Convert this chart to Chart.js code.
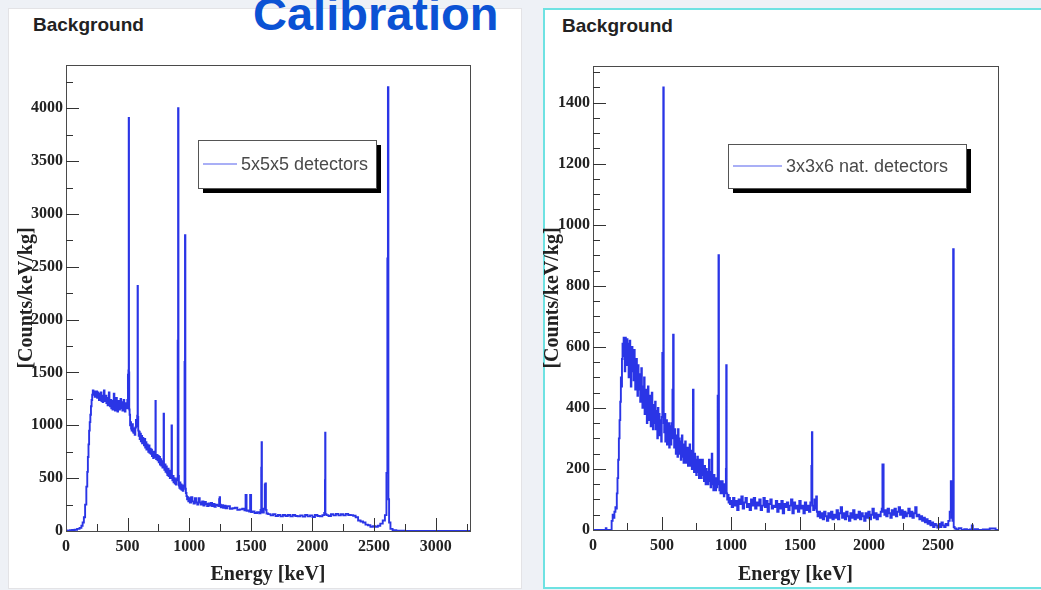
<!DOCTYPE html>
<html>
<head>
<meta charset="utf-8">
<script src="https://cdn.jsdelivr.net/npm/chart.js@4.4.1/dist/chart.umd.min.js"></script>
<style>
  body { margin: 0; width: 1041px; height: 590px; background: #eef1f6; position: relative; overflow: hidden; }
  .panel { position: absolute; background: #fff; }
  #panelL { left: 8px; top: 8px; width: 512px; height: 579px; border: 1px solid #e3e3e6; }
  #panelR { left: 543px; top: 8px; width: 520px; height: 577px; border: 2px solid #6ee2e2; }
  .heading { position: absolute; font: bold 19px "Liberation Sans", Arial, sans-serif; line-height: 19px; color: #222; }
  #title { position: absolute; left: 253px; top: -10px; font: bold 47px "Liberation Sans", Arial, sans-serif; line-height: 47px; color: #0b52d4; }
  canvas { position: absolute; top: 0; }
</style>
</head>
<body>
<div class="panel" id="panelL"></div>
<div class="panel" id="panelR"></div>
<div id="title">Calibration</div>
<div class="heading" style="left:33px; top:15px">Background</div>
<div class="heading" style="left:562px; top:16px">Background</div>
<canvas id="chartL" width="530" height="590" style="left:0"></canvas>
<canvas id="chartR" width="511" height="590" style="left:530px"></canvas>
<script>
// series labels
const seriesLabels = ['5x5x5 detectors', '3x3x6 nat. detectors'];

// axis ticks
const xTicksL = [0, 500, 1000, 1500, 2000, 2500, 3000];
const yTicksL = [0, 500, 1000, 1500, 2000, 2500, 3000, 3500, 4000];
const xTicksR = [0, 500, 1000, 1500, 2000, 2500];
const yTicksR = [0, 200, 400, 600, 800, 1000, 1200, 1400];

// [energy keV, counts/keV/kg]
const spectrum5 = [
  [0,5],[20,3],[40,8],[60,10],[80,12],[100,20],[120,30],[130,50],[140,80],[150,130],[160,250],[170,420],
  [175,560],[180,700],[185,820],[190,950],[195,1030],[200,1100],[205,1180],[210,1240],[215,1290],[220,1330],
  [225,1300],[230,1320],[235,1270],[240,1310],[245,1280],[250,1320],[255,1260],[260,1310],[265,1270],[270,1240],
  [275,1300],[280,1250],[285,1310],[290,1230],[295,1280],[300,1220],[305,1270],[310,1330],[315,1270],[320,1230],
  [325,1280],[330,1210],[335,1260],[340,1190],[345,1250],[350,1310],[355,1220],[360,1180],[365,1240],[370,1160],
  [375,1220],[380,1150],[385,1230],[390,1300],[395,1190],[400,1140],[405,1210],[410,1260],[415,1170],[420,1130],
  [425,1200],[430,1230],[435,1150],[440,1210],[445,1250],[450,1160],[455,1220],[460,1140],[465,1200],[470,1240],
  [475,1160],[480,1130],[485,1210],[490,1170],[495,1160],[500,1240],[505,1480],[508,1520],[510,3910],[512,1500],
  [514,1150],[518,1100],[522,1000],[526,1030],[530,970],[535,950],[540,1010],[545,940],[550,930],[555,970],
  [560,910],[565,980],[570,1050],[575,990],[580,1090],[582,2320],[584,1080],[588,950],[592,900],[596,940],
  [600,870],[605,920],[610,850],[615,900],[620,830],[625,880],[630,850],[635,810],[640,870],[645,790],
  [650,840],[655,770],[660,820],[665,790],[670,750],[675,810],[680,740],[685,780],[690,730],[695,770],
  [700,710],[705,750],[710,690],[715,740],[720,700],[725,750],[727,1230],[729,720],[733,680],[740,720],
  [745,670],[750,710],[755,650],[760,700],[765,630],[770,680],[775,620],[780,660],[785,600],[790,650],
  [794,1110],[796,620],[800,580],[805,630],[810,560],[815,610],[820,550],[825,530],[830,590],[835,520],
  [840,570],[845,500],[850,550],[855,570],[858,1000],[861,520],[865,480],[870,520],[875,460],[880,500],
  [885,450],[890,490],[895,440],[900,480],[905,500],[908,1800],[911,4000],[914,520],[918,430],[922,410],
  [926,460],[930,400],[935,440],[940,390],[945,430],[950,380],[955,420],[960,430],[964,1600],[967,2800],
  [970,400],[975,360],[980,330],[985,300],[990,320],[995,280],[1000,310],[1010,270],[1020,320],[1030,280],
  [1040,260],[1050,310],[1060,270],[1070,250],[1080,310],[1090,270],[1100,250],[1110,280],[1120,240],[1130,275],
  [1140,255],[1150,235],[1160,260],[1170,240],[1180,265],[1190,235],[1200,255],[1210,230],[1220,250],[1230,245],
  [1240,235],[1245,300],[1248,320],[1252,250],[1260,225],[1270,245],[1280,220],[1290,240],[1300,215],[1320,235],
  [1340,210],[1360,215],[1380,220],[1400,200],[1420,205],[1440,210],[1455,195],[1459,340],[1463,340],[1467,190],
  [1480,195],[1492,185],[1496,340],[1500,340],[1504,180],[1520,185],[1540,170],[1560,178],[1575,168],[1582,200],
  [1586,600],[1588,840],[1591,180],[1600,175],[1610,210],[1616,440],[1620,450],[1624,200],[1630,165],[1650,160],
  [1670,148],[1690,158],[1710,142],[1730,152],[1750,138],[1770,152],[1790,142],[1810,152],[1830,138],[1850,152],
  [1870,142],[1890,138],[1910,148],[1930,136],[1950,152],[1970,138],[1990,148],[2010,132],[2030,152],[2050,142],
  [2070,138],[2090,150],[2100,170],[2102,480],[2104,930],[2106,160],[2120,150],[2140,142],[2160,158],[2180,148],
  [2200,162],[2220,148],[2240,158],[2260,148],[2280,162],[2300,152],[2320,150],[2340,145],[2360,130],[2380,100],
  [2400,90],[2420,80],[2440,60],[2460,55],[2480,40],[2500,45],[2520,40],[2540,50],[2560,70],[2580,100],
  [2595,150],[2605,550],[2610,2580],[2614,4200],[2618,300],[2625,80],[2640,20],[2660,8],[2700,2],[2800,0],
  [3000,0],[3278,0]
];

const spectrum3 = [
  [0,0],[50,0],[90,0],[95,6],[100,0],[130,0],[140,30],[145,50],[150,40],[160,60],[165,75],[170,70],
  [175,120],[180,170],[185,230],[190,300],[195,360],[200,420],[204,500],[208,470],[212,560],[216,610],
  [220,570],[224,630],[228,600],[232,520],[236,630],[240,590],[244,540],[248,625],[252,560],[256,610],
  [260,500],[264,590],[268,620],[272,540],[276,470],[280,580],[284,600],[288,520],[292,560],[296,490],
  [300,590],[304,530],[308,460],[312,520],[316,560],[320,480],[324,440],[328,540],[332,500],[336,460],
  [340,510],[344,420],[348,480],[352,530],[356,440],[360,400],[364,470],[368,430],[372,500],[376,380],
  [380,440],[384,460],[388,390],[392,350],[396,430],[400,470],[404,400],[408,360],[412,440],[416,410],
  [420,340],[424,400],[428,450],[432,370],[436,330],[440,410],[444,380],[448,350],[452,420],[456,330],
  [460,390],[464,360],[468,300],[472,400],[476,340],[480,380],[484,310],[488,360],[492,330],[496,290],
  [500,370],[505,580],[508,420],[511,1450],[514,350],[518,320],[522,380],[526,290],[530,340],[534,360],
  [538,280],[542,330],[546,300],[550,350],[554,270],[558,320],[562,340],[566,280],[570,350],[574,300],
  [578,460],[583,640],[586,320],[590,270],[594,330],[598,290],[602,250],[606,310],[610,280],[614,240],
  [618,330],[622,270],[626,300],[630,250],[634,290],[638,230],[642,280],[646,310],[650,240],[654,270],
  [658,220],[662,280],[666,250],[670,290],[674,220],[678,260],[682,230],[686,270],[690,210],[694,250],
  [698,230],[702,280],[706,210],[710,240],[714,260],[718,200],[722,240],[727,460],[730,230],[734,190],
  [738,250],[742,210],[746,230],[750,180],[754,220],[758,240],[762,190],[766,230],[770,170],[774,210],
  [778,190],[782,230],[786,170],[790,200],[795,230],[798,180],[802,200],[806,160],[810,210],[814,180],
  [818,150],[822,200],[826,170],[830,190],[834,150],[838,180],[843,230],[846,160],[850,190],[854,140],
  [858,180],[863,250],[866,150],[870,170],[874,130],[878,180],[882,150],[886,170],[890,130],[894,160],
  [898,140],[902,170],[905,440],[908,440],[911,900],[914,150],[918,130],[922,160],[926,120],[930,150],
  [934,130],[938,160],[942,120],[946,140],[950,110],[954,150],[958,120],[962,140],[964,200],[967,540],
  [970,120],[975,100],[980,115],[985,90],[990,105],[995,85],[1000,95],[1010,75],[1020,105],[1030,80],
  [1040,95],[1050,65],[1060,100],[1070,85],[1080,110],[1090,70],[1100,90],[1110,105],[1120,75],[1130,85],
  [1140,65],[1150,100],[1160,80],[1170,105],[1180,70],[1190,90],[1200,80],[1210,100],[1220,65],[1230,80],
  [1240,105],[1250,75],[1260,95],[1270,60],[1280,85],[1290,100],[1300,70],[1310,80],[1320,75],[1330,95],
  [1340,60],[1350,85],[1360,70],[1370,95],[1380,55],[1390,85],[1400,75],[1410,90],[1420,65],[1430,80],
  [1440,100],[1450,55],[1460,90],[1470,70],[1480,80],[1490,60],[1500,95],[1510,70],[1520,80],[1530,55],
  [1540,90],[1550,65],[1560,80],[1570,60],[1580,90],[1585,210],[1588,320],[1591,80],[1600,65],[1610,100],
  [1615,70],[1620,110],[1625,60],[1630,45],[1640,60],[1650,40],[1660,55],[1670,35],[1680,60],[1690,45],
  [1700,30],[1710,55],[1720,40],[1730,60],[1740,35],[1750,50],[1760,40],[1770,65],[1780,35],[1790,55],
  [1800,75],[1810,40],[1820,55],[1830,35],[1840,60],[1850,45],[1860,30],[1870,55],[1880,40],[1890,65],
  [1900,35],[1910,50],[1920,40],[1930,60],[1940,35],[1950,55],[1960,45],[1970,30],[1980,55],[1990,40],
  [2000,60],[2010,35],[2020,50],[2030,70],[2040,40],[2050,55],[2060,35],[2070,50],[2080,45],[2090,60],
  [2095,70],[2100,215],[2104,215],[2108,60],[2115,50],[2120,65],[2130,45],[2140,70],[2150,55],[2160,40],
  [2170,65],[2180,50],[2190,70],[2200,45],[2210,60],[2220,75],[2230,50],[2240,65],[2250,40],[2260,60],
  [2270,45],[2280,55],[2290,70],[2300,45],[2310,60],[2320,40],[2330,55],[2340,75],[2350,45],[2360,50],
  [2370,35],[2380,45],[2390,30],[2400,40],[2410,25],[2420,35],[2430,20],[2440,30],[2450,15],[2460,25],
  [2470,10],[2480,20],[2490,15],[2500,8],[2510,20],[2520,10],[2530,25],[2540,15],[2550,10],[2560,20],
  [2570,15],[2580,30],[2590,60],[2596,160],[2602,40],[2608,30],[2612,920],[2616,10],[2625,5],[2640,2],
  [2660,6],[2680,0],[2700,3],[2720,0],[2740,2],[2750,15],[2755,0],[2780,3],[2800,0],[2850,2],
  [2900,5],[2935,0]
];

const serif = '"Liberation Serif", "Times New Roman", serif';
const lineColor = '#2a35e6';

// ROOT-like frame, inward tick marks and boxed legend with shadow
const rootFrame = {
  id: 'rootFrame',
  afterDatasetsDraw(chart, args, opts) {
    const { ctx, chartArea: a, scales: { x, y } } = chart;
    ctx.save();
    ctx.strokeStyle = '#4a4a4a';
    ctx.lineWidth = 1;
    ctx.strokeRect(Math.round(a.left) + 0.5, Math.round(a.top) + 0.5, Math.round(a.right - a.left), Math.round(a.bottom - a.top));

    ctx.strokeStyle = '#333';
    ctx.beginPath();
    for (let v = opts.xMinor; v < x.max; v += opts.xMinor) {
      const px = Math.round(x.getPixelForValue(v)) + 0.5;
      const len = v % opts.xMajor === 0 ? 13 : 7;
      ctx.moveTo(px, a.bottom);
      ctx.lineTo(px, a.bottom - len);
    }
    for (let v = opts.yMinor; v < y.max; v += opts.yMinor) {
      const py = Math.round(y.getPixelForValue(v)) + 0.5;
      const len = v % opts.yMajor === 0 ? 13 : 7;
      ctx.moveTo(a.left, py);
      ctx.lineTo(a.left + len, py);
    }
    ctx.stroke();

    // legend
    const [lx, ly, lw, lh] = opts.legendBox;
    ctx.fillStyle = '#000';
    ctx.fillRect(lx + 5, ly + 5, lw, lh);
    ctx.fillStyle = '#fff';
    ctx.fillRect(lx, ly, lw, lh);
    ctx.strokeStyle = '#555';
    ctx.strokeRect(lx + 0.5, ly + 0.5, lw, lh);
    const ds = chart.data.datasets[0];
    const my = ly + lh / 2;
    ctx.strokeStyle = '#5560ee';
    ctx.lineWidth = 1.2;
    ctx.beginPath();
    ctx.moveTo(lx + 5, my);
    ctx.lineTo(lx + 5 + opts.sampleLen, my);
    ctx.stroke();
    ctx.fillStyle = '#4a4a4a';
    ctx.font = '18px "Liberation Sans", Arial, sans-serif';
    ctx.textBaseline = 'middle';
    ctx.fillText(ds.label, lx + 9 + opts.sampleLen, my + 1);
    ctx.restore();
  }
};

function makeSpectrum(canvasId, label, points, xMax, yMax, xTicks, yTicks, yWidth, xHeight, padding, titleLeft, frameOpts) {
  new Chart(document.getElementById(canvasId), {
    type: 'line',
    data: {
      datasets: [{
        label: label,
        data: points.map(p => ({ x: p[0], y: p[1] })),
        borderColor: lineColor,
        borderWidth: 1.9,
        pointRadius: 0,
        stepped: 'middle',
        fill: false
      }]
    },
    options: {
      responsive: false,
      animation: false,
      layout: { padding: padding },
      plugins: {
        legend: { display: false },
        tooltip: { enabled: false },
        rootFrame: frameOpts
      },
      scales: {
        x: {
          type: 'linear',
          min: 0,
          max: xMax,
          afterFit(s) { s.height = xHeight; },
          afterBuildTicks(s) { s.ticks = xTicks.map(v => ({ value: v })); },
          grid: { drawOnChartArea: false, drawTicks: false },
          border: { display: false },
          ticks: { font: { family: serif, weight: 'bold', size: 16 }, color: '#222', padding: 6, maxRotation: 0, callback: v => String(v) },
          title: { display: true, text: 'Energy [keV]', font: { family: serif, weight: 'bold', size: 20 }, color: '#222', padding: { top: 0, bottom: 3 } }
        },
        y: {
          type: 'linear',
          min: 0,
          max: yMax,
          afterFit(s) { s.width = yWidth; },
          afterBuildTicks(s) { s.ticks = yTicks.map(v => ({ value: v })); },
          grid: { drawOnChartArea: false, drawTicks: false },
          border: { display: false },
          ticks: { font: { family: serif, weight: 'bold', size: 16 }, color: '#222', padding: 3, callback: v => String(v) },
          title: { display: true, text: '[Counts/keV/kg]', font: { family: serif, weight: 'bold', size: 20 }, color: '#222', padding: { top: titleLeft, bottom: 0 } }
        }
      }
    },
    plugins: [rootFrame]
  });
}

makeSpectrum('chartL', seriesLabels[0], spectrum5, 3278, 4410, xTicksL, yTicksL, 66, 59,
  { left: 0, top: 65, right: 60, bottom: 0 }, 15,
  { xMajor: 500, xMinor: 250, yMajor: 500, yMinor: 250, legendBox: [198, 140, 178, 48], sampleLen: 34 });

makeSpectrum('chartR', seriesLabels[1], spectrum3, 2935, 1520, xTicksR, yTicksR, 63, 60,
  { left: 0, top: 66, right: 43, bottom: 0 }, 11,
  { xMajor: 500, xMinor: 250, yMajor: 200, yMinor: 50, legendBox: [198, 144, 238, 44], sampleLen: 49 });
</script>
</body>
</html>
